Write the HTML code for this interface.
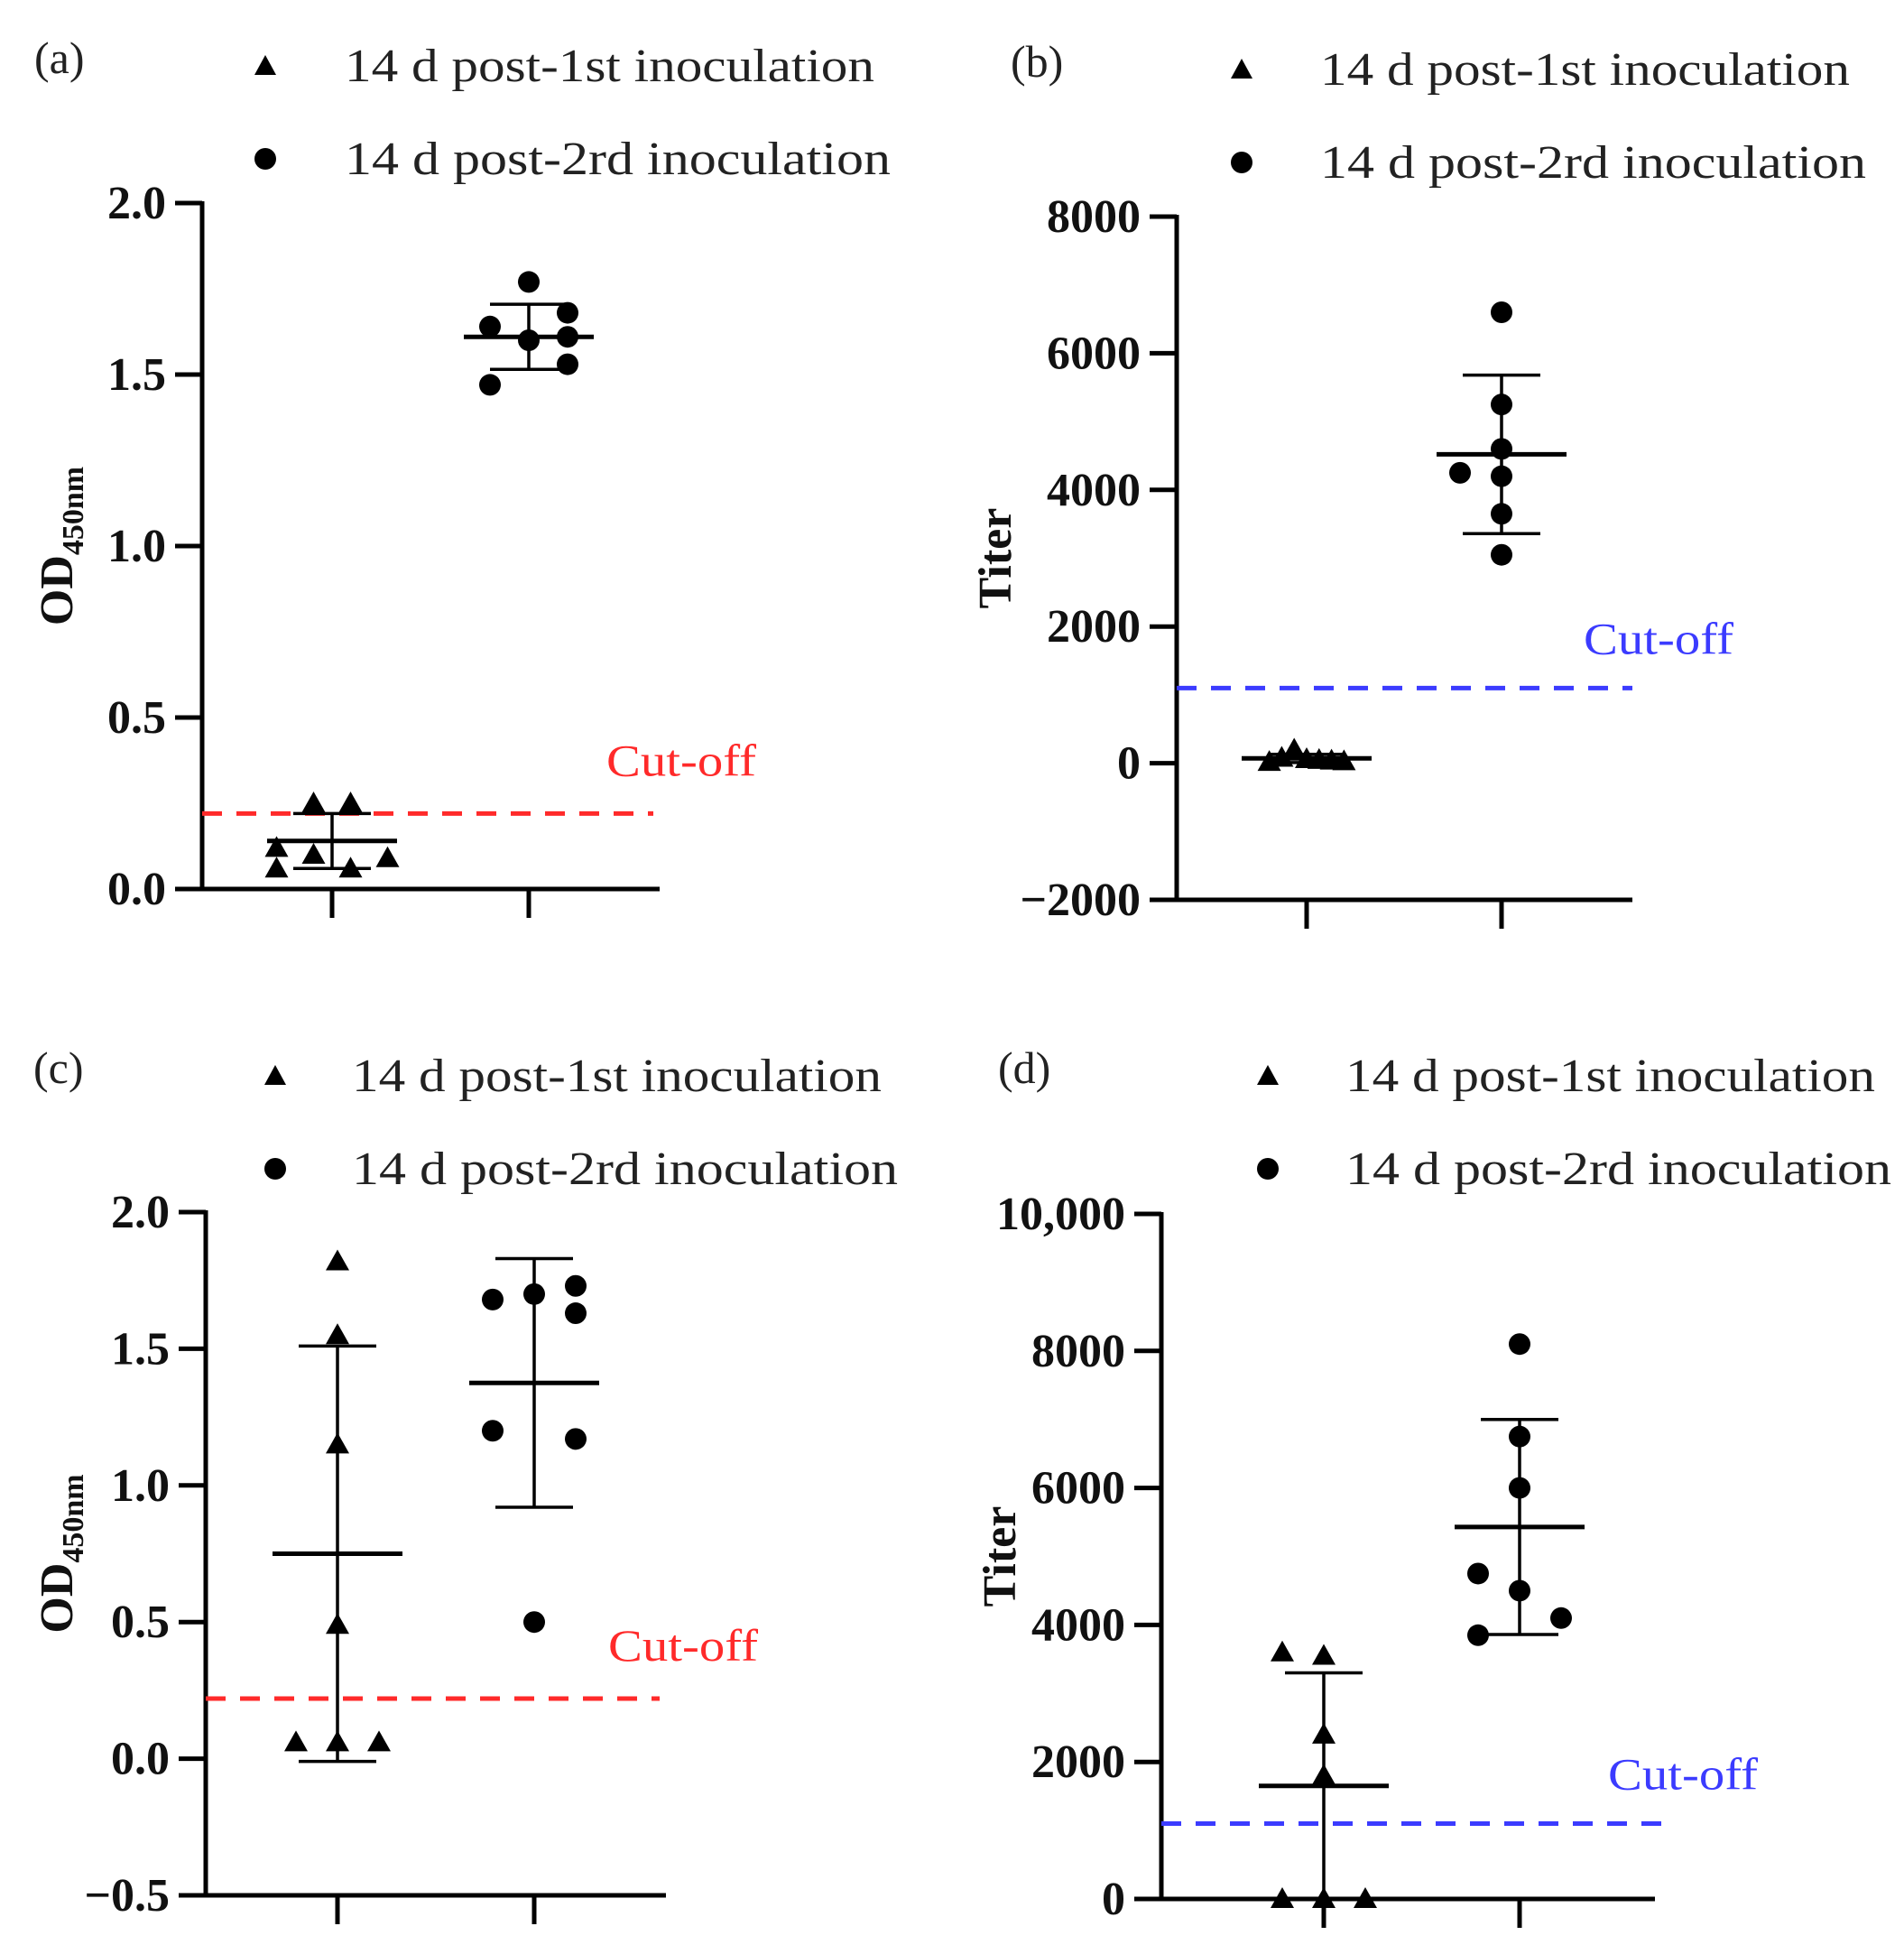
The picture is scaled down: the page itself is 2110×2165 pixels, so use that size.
<!DOCTYPE html>
<html><head><meta charset="utf-8"><style>
html,body{margin:0;padding:0;background:#fff;}
svg{display:block;}
text{font-family:"Liberation Serif",serif;}
</style></head><body>
<svg id="fig" width="2110" height="2165" viewBox="0 0 2110 2165" xmlns="http://www.w3.org/2000/svg"></svg>
<script>
// Panel (a)
const aTicks=[0,0.5,1.0,1.5,2.0];
const aTickLabels=["0.0","0.5","1.0","1.5","2.0"];
const aGroup1=[0.25,0.25,0.12,0.10,0.06,0.06,0.09];
const aGroup1Off=[-0.5,0.5,-1.5,-0.5,-1.5,0.5,1.5];
const aGroup2=[1.77,1.64,1.68,1.60,1.61,1.53,1.47];
const aGroup2Off=[0,-1,1,0,1,1,-1];
const aMean=[0.14,1.61];
const aSD=[0.08,0.095];
const aCut=0.22;
// Panel (b)
const bTicks=[-2000,0,2000,4000,6000,8000];
const bTickLabels=["\u22122000","0","2000","4000","6000","8000"];
const bGroup1=[200,80,60,50,40,30,20];
const bGroup1Off=[-0.3,-0.6,0,0.3,0.6,0.9,-0.9];
const bGroup2=[6600,5250,4600,4250,4200,3650,3050];
const bGroup2Off=[0,0,0,-1,0,0,0];
const bMean=[70,4520];
const bSD=[60,1160];
const bCut=1100;
// Panel (c)
const cTicks=[-0.5,0,0.5,1.0,1.5,2.0];
const cTickLabels=["\u22120.5","0.0","0.5","1.0","1.5","2.0"];
const cGroup1=[1.82,1.55,1.15,0.49,0.06,0.06,0.06];
const cGroup1Off=[0,0,0,0,-1,0,1];
const cGroup2=[1.68,1.70,1.73,1.63,1.20,1.17,0.50];
const cGroup2Off=[-1,0,1,1,-1,1,0];
const cMean=[0.75,1.375];
const cSD=[0.76,0.455];
const cCut=0.22;
// Panel (d)
const dTicks=[0,2000,4000,6000,8000,10000];
const dTickLabels=["0","2000","4000","6000","8000","10,000"];
const dGroup1=[3600,3550,2400,1800,0,0,0];
const dGroup1Off=[-1,0,0,0,-1,0,1];
const dGroup2=[8100,6750,6000,4750,4500,4100,3850];
const dGroup2Off=[0,0,0,-1,0,1,-1];
const dMean=[1650,5430];
const dSD=[1650,1570];
const dCut=1100;

const NS="http://www.w3.org/2000/svg";
const svg=document.getElementById('fig');
function mk(tag,attrs,parent){const e=document.createElementNS(NS,tag);for(const k in attrs)e.setAttribute(k,attrs[k]);(parent||svg).appendChild(e);return e;}

function panel(cfg){
  const g=mk('g',{});
  
  
  const y=v=>cfg.y0-(v-cfg.vmin)/(cfg.vmax-cfg.vmin)*(cfg.y0-cfg.y1);
  const pl=mk('text',{x:cfg.ax-186+cfg.lblDx,y:cfg.legY1+8,'font-size':50,fill:'#222'},g);pl.textContent='('+cfg.id+')';
  
  
  const legs=[["14 d post-1st inoculation","tri"],["14 d post-2rd inoculation","dot"]];
  legs.forEach((L,i)=>{
    const ly=i?cfg.legY2:cfg.legY1;
    const lg=mk('g',{},g);
    
    
    if(L[1]=='tri')mk('polygon',{points:`${cfg.legMx},${ly-12} ${cfg.legMx-12},${ly+10} ${cfg.legMx+12},${ly+10}`,fill:'#000'},lg);
    else mk('circle',{cx:cfg.legMx,cy:ly,r:12,fill:'#000'},lg);
    const t=mk('text',{x:cfg.legTx,y:ly+17,'font-size':52,fill:'#222',textLength:i?605:587,lengthAdjust:'spacingAndGlyphs'},lg);t.textContent=L[0];
  });
  const ya=mk('line',{x1:cfg.ax,y1:cfg.y1-2,x2:cfg.ax,y2:y(cfg.vmin)+2,stroke:'#000','stroke-width':5},g);
  
  const xa=mk('line',{x1:cfg.ax-30,y1:y(cfg.vmin),x2:cfg.xr,y2:y(cfg.vmin),stroke:'#000','stroke-width':5},g);
  
  cfg.ticks.forEach((v,i)=>{
    mk('line',{x1:cfg.ax-30,y1:y(v),x2:cfg.ax,y2:y(v),stroke:'#000','stroke-width':5},g);
    const t=mk('text',{x:cfg.ax-40,y:y(v)+17,'font-size':52,'font-weight':'bold','text-anchor':'end',fill:'#111'},g);
    t.textContent=cfg.labels[i];
    
    
  });
  cfg.gx.forEach(x=>mk('line',{x1:x,y1:y(cfg.vmin),x2:x,y2:y(cfg.vmin)+32,stroke:'#000','stroke-width':5},g));
  const tt=mk('text',{transform:`translate(${cfg.titleX},${(cfg.y1+y(cfg.vmin))/2}) rotate(-90)`,'text-anchor':'middle','font-size':52,'font-weight':'bold',fill:'#111'},g);
  
  if(cfg.od){tt.textContent='OD';const s=mk('tspan',{'font-size':34,dy:12},tt);s.textContent='450nm';}
  else tt.textContent='Titer';
  const cl=mk('line',{x1:cfg.ax,y1:y(cfg.cut),x2:cfg.cutEnd,y2:y(cfg.cut),stroke:cfg.cutColor,'stroke-width':5,'stroke-dasharray':'22 16'},g);
  
  const ct=mk('text',{x:cfg.cutTx,y:y(cfg.cut)-cfg.cutDy,'font-size':50,fill:cfg.cutColor,textLength:166,lengthAdjust:'spacingAndGlyphs'},g);ct.textContent='Cut-off';
  
  [[cfg.g1,cfg.o1,'tri'],[cfg.g2,cfg.o2,'dot']].forEach((G,gi)=>{
    const cx=cfg.gx[gi];
    const sg=mk('g',{},g);
    
    
    const off=gi?cfg.off:(cfg.off1||cfg.off);
    G[0].forEach((v,i)=>{
      const x=cx+G[1][i]*off,yy=y(v);
      if(G[2]=='tri'){const p=mk('polygon',{points:`${x},${yy-13} ${x-13},${yy+10} ${x+13},${yy+10}`,fill:'#000'},sg);
        }
      else {const c=mk('circle',{cx:x,cy:yy,r:12,fill:'#000'},sg);
        }
    });
    const m=cfg.mean[gi],s=cfg.sd[gi];
    const lo=Math.max(m-s,cfg.vmin),hi=m+s;
    const eb=mk('g',{},sg);
    
    mk('line',{x1:cx,y1:y(lo),x2:cx,y2:y(hi),stroke:'#000','stroke-width':3.5},eb);
    mk('line',{x1:cx-43,y1:y(hi),x2:cx+43,y2:y(hi),stroke:'#000','stroke-width':3.5},eb);
    mk('line',{x1:cx-43,y1:y(lo),x2:cx+43,y2:y(lo),stroke:'#000','stroke-width':3.5},eb);
    const ml=mk('line',{x1:cx-72,y1:y(m),x2:cx+72,y2:y(m),stroke:'#000','stroke-width':5},sg);
    
  });
}
panel({id:'a',ax:224,y1:225,y0:985,vmin:0,vmax:2,ticks:aTicks,labels:aTickLabels,xr:731,gx:[368,586],
  legY1:73,legY2:176,legMx:294,legTx:382,lblDx:0,titleX:80,od:true,cut:aCut,cutColor:'#ff2a2a',cutEnd:724,cutTx:672,cutDy:42,
  g1:aGroup1,o1:aGroup1Off,g2:aGroup2,o2:aGroup2Off,mean:aMean,sd:aSD,off:43,off1:41});
panel({id:'b',ax:1304,y1:240,y0:997,vmin:-2000,vmax:8000,ticks:bTicks,labels:bTickLabels,xr:1809,gx:[1448,1664],
  legY1:77,legY2:180,legMx:1376,legTx:1463,lblDx:2,titleX:1120,od:false,cut:bCut,cutColor:'#3b3bff',cutEnd:1809,cutTx:1755,cutDy:38,
  g1:bGroup1,o1:bGroup1Off,g2:bGroup2,o2:bGroup2Off,mean:bMean,sd:bSD,off:46});
panel({id:'c',ax:228,y1:1343,y0:2100,vmin:-0.5,vmax:2,ticks:cTicks,labels:cTickLabels,xr:738,gx:[374,592],
  legY1:1192,legY2:1295,legMx:305,legTx:390,lblDx:-5,titleX:80,od:true,cut:cCut,cutColor:'#ff2a2a',cutEnd:731,cutTx:674,cutDy:42,
  g1:cGroup1,o1:cGroup1Off,g2:cGroup2,o2:cGroup2Off,mean:cMean,sd:cSD,off:46});
panel({id:'d',ax:1287,y1:1345,y0:2104,vmin:0,vmax:10000,ticks:dTicks,labels:dTickLabels,xr:1834,gx:[1467,1684],
  legY1:1192,legY2:1295,legMx:1405,legTx:1491,lblDx:5,titleX:1125,od:false,cut:dCut,cutColor:'#3b3bff',cutEnd:1841,cutTx:1782,cutDy:38,
  g1:dGroup1,o1:dGroup1Off,g2:dGroup2,o2:dGroup2Off,mean:dMean,sd:dSD,off:46});
</script>
</body></html>
